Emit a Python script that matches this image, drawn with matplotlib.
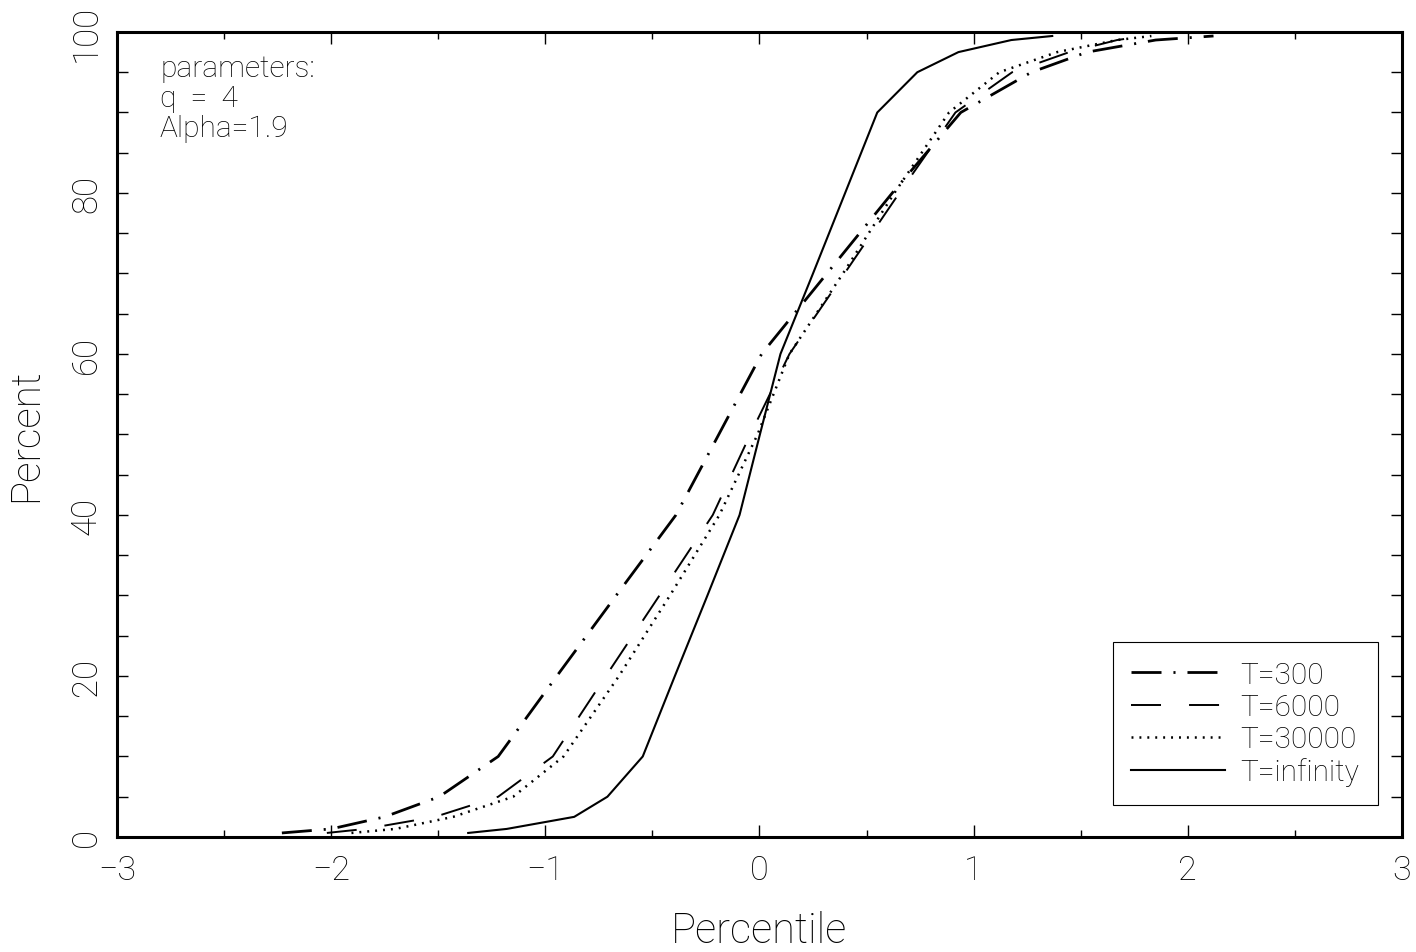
import matplotlib
matplotlib.use("Agg")
import matplotlib.pyplot as plt
from matplotlib.ticker import MultipleLocator

# Cumulative percent levels at which each curve is evaluated
percent_levels = [0.5, 1, 2.5, 5, 10, 20, 30, 40, 50, 60, 70, 80, 90, 95, 97.5, 99, 99.5]

# Percentile positions for each simulation length
t300 = [-2.23, -2.00, -1.75, -1.495, -1.22, -0.946, -0.669, -0.39, -0.19, 0.01,
        0.315, 0.62, 0.94, 1.27, 1.53, 1.85, 2.12]
t6000 = [-2.02, -1.84, -1.515, -1.22, -0.965, -0.717, -0.467, -0.218, -0.043, 0.14,
         0.397, 0.653, 0.915, 1.18, 1.447, 1.67, 1.80]
t30000 = [-1.905, -1.70, -1.43, -1.15, -0.915, -0.656, -0.418, -0.187, -0.009, 0.14,
          0.39, 0.63, 0.885, 1.12, 1.39, 1.67, 1.83]
tinf = [-1.36, -1.18, -0.865, -0.71, -0.545, -0.395, -0.243, -0.093, 0.002, 0.098,
        0.25, 0.40, 0.55, 0.737, 0.929, 1.176, 1.367]

series_labels = ["T=300", "T=6000", "T=30000", "T=infinity"]
x_ticks = [-3, -2, -1, 0, 1, 2, 3]
y_ticks = [0, 20, 40, 60, 80, 100]
param_text = "parameters:\nq  =  4\nAlpha=1.9"

plt.rcParams["font.family"] = ["Roboto", "DejaVu Sans"]
plt.rcParams["font.weight"] = "light"
plt.rcParams["axes.labelweight"] = "light"
plt.rcParams["lines.scale_dashes"] = False

fig = plt.figure(figsize=(14.16, 9.53), dpi=100)
ax = fig.add_axes([0.0826, 0.1207, 0.9075, 0.8447])

styles = [
    dict(linestyle=(0, (21.6, 8.6, 1.5, 8.6)), linewidth=2.0, dash_capstyle="butt"),
    dict(linestyle=(0, (21.6, 20.2)), linewidth=1.4, dash_capstyle="butt"),
    dict(linestyle=(0, (1.4, 4.3)), linewidth=1.8, dash_capstyle="butt"),
    dict(linestyle="-", linewidth=1.5),
]
for xs, lab, st in zip([t300, t6000, t30000, tinf], series_labels, styles):
    ax.plot(xs, percent_levels, color="black", label=lab, **st)

ax.set_xlim(-3, 3)
ax.set_ylim(0, 100)
ax.set_xticks(x_ticks)
ax.set_yticks(y_ticks)
ax.xaxis.set_minor_locator(MultipleLocator(0.5))
ax.yaxis.set_minor_locator(MultipleLocator(5))

for s in ax.spines.values():
    s.set_linewidth(2.2)

ax.tick_params(which="both", direction="in", top=True, right=True, width=1.0,
               color="black")
ax.tick_params(axis="x", which="major", length=8.6, pad=12, labelsize=24.5)
ax.tick_params(axis="x", which="minor", length=5.0)
ax.tick_params(axis="y", which="both", length=8.0)
ax.tick_params(axis="y", which="major", pad=10, labelsize=25)
for lbl in ax.get_yticklabels():
    lbl.set_rotation(90)
    lbl.set_va("center")

ax.set_xlabel("Percentile", fontsize=30)
ax.xaxis.set_label_coords(0.5, -0.091)
ax.set_ylabel("Percent", fontsize=29)
ax.yaxis.set_label_coords(-0.056, 0.5)

ax.text(0.0335, 0.973, param_text, transform=ax.transAxes, ha="left", va="top",
        fontsize=21.5, linespacing=1.1)

leg = ax.legend(loc="lower left", bbox_to_anchor=(0.775, 0.040), borderaxespad=0,
                fontsize=21.5, handlelength=3.15, handletextpad=0.5,
                labelspacing=0.14, borderpad=0.62, fancybox=False, framealpha=1,
                edgecolor="black")
leg.get_frame().set_linewidth(0.8)

fig.savefig("out.png", dpi=100)
